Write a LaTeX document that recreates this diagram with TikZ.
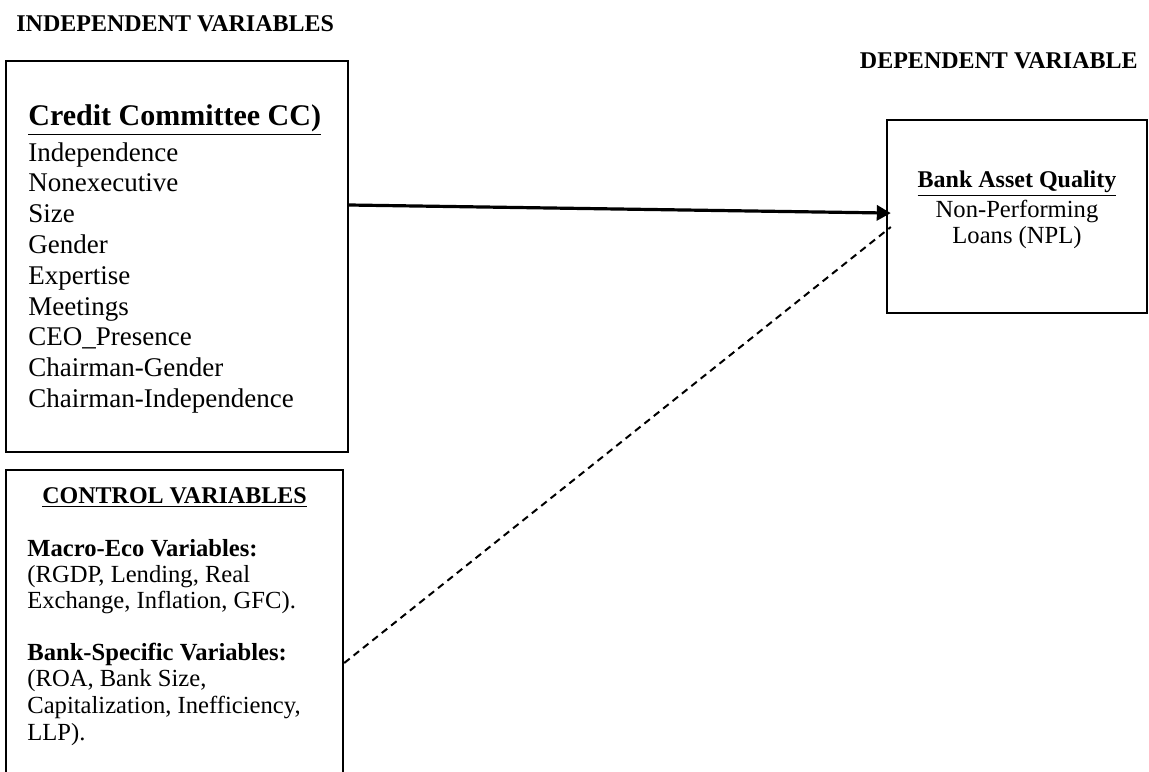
\documentclass[tikz,border=0pt]{standalone}
\usepackage{fontspec}
\setmainfont{Liberation Serif}
\usetikzlibrary{arrows.meta}
\tikzset{
  box/.style={draw, line width=1.2pt, inner sep=0pt},
  head/.style={font=\fontsize{12}{14}\selectfont\bfseries, inner sep=0pt},
  item/.style={font=\fontsize{13.5}{15}\selectfont, inner sep=0pt, anchor=base west},
  ctrlitem/.style={font=\fontsize{12.3}{14}\selectfont, inner sep=0pt, anchor=base west},
}
\begin{document}
\begin{tikzpicture}[x=0.5pt, y=-0.5pt]
\clip (0,0) rectangle (1149,771);

\node[head, anchor=base west] (indep) at (16,32) {INDEPENDENT VARIABLES};
\node[head, anchor=base east] (dep) at (1138,68) {DEPENDENT VARIABLE};

\node[box, minimum width=171pt, minimum height=195.5pt] (cc) at (177,256.5) {};
\node[box, minimum width=168.5pt, minimum height=165pt] (ctrl) at (174.5,635) {};
\node[box, minimum width=130pt, minimum height=96.5pt] (npl) at (1017,216.5) {};

% credit committee
\node[item, font=\fontsize{15}{17}\selectfont\bfseries] (cctitle) at (28,125) {\underline{Credit Committee CC)}};
\foreach \t [count=\i from 0] in {Independence, Nonexecutive, Size, Gender, Expertise, Meetings, CEO\_Presence, Chairman-Gender, Chairman-Independence}
  \node[item] (cc\i) at (28,{161+30.8*\i}) {\t};

% control variables
\node[head, anchor=base] (ctrltitle) at (174.5,503) {\underline{CONTROL VARIABLES}};
\node[ctrlitem, font=\fontsize{12.3}{14}\selectfont\bfseries] (macro) at (27,556) {Macro-Eco Variables:};
\node[ctrlitem] (macro1) at (27,582) {(RGDP, Lending, Real};
\node[ctrlitem] (macro2) at (27,608) {Exchange, Inflation, GFC).};
\node[ctrlitem, font=\fontsize{12.3}{14}\selectfont\bfseries] (bank) at (27,660) {Bank-Specific Variables:};
\node[ctrlitem] (bank1) at (27,686) {(ROA, Bank Size,};
\node[ctrlitem] (bank2) at (27,713) {Capitalization, Inefficiency,};
\node[ctrlitem] (bank3) at (27,740) {LLP).};

% dependent variable
\node[head, anchor=base] (npltitle) at (1017,187) {\underline{Bank Asset Quality}};
\node[ctrlitem, anchor=base] (npl1) at (1017,217) {Non-Performing};
\node[ctrlitem, anchor=base] (npl2) at (1017,243) {Loans (NPL)};

% connectors
\draw[line width=1.6pt, -{Triangle[length=7pt, width=7.5pt]}, shorten >=-2.5pt] ([yshift=25.75pt]cc.east) -- ([yshift=1.75pt]npl.west);
\draw[line width=1pt, dash pattern=on 3.5pt off 2.5pt] ([yshift=-14pt]ctrl.east) -- ([xshift=2.5pt, yshift=-5.25pt]npl.west);
\end{tikzpicture}
\end{document}
